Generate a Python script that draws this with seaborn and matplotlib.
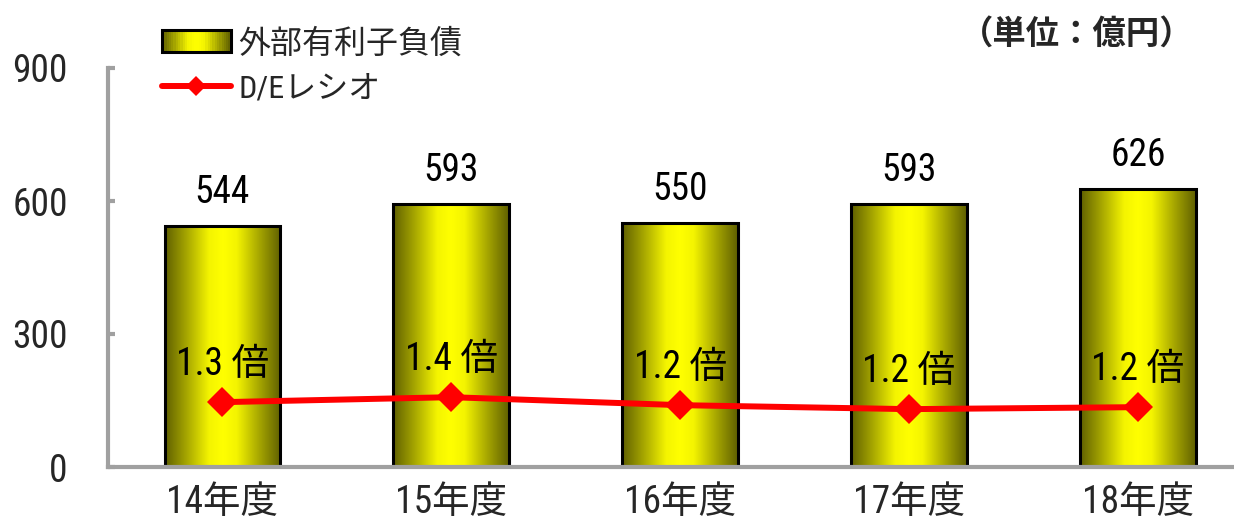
import numpy as np
import matplotlib
matplotlib.use("Agg")
import matplotlib.pyplot as plt
import seaborn as sns
from matplotlib.colors import LinearSegmentedColormap
from matplotlib.patches import Rectangle
from matplotlib.lines import Line2D
from matplotlib.legend_handler import HandlerBase
import logging
logging.getLogger("matplotlib.font_manager").setLevel(logging.ERROR)

# ---- data ----
years = ["14年度", "15年度", "16年度", "17年度", "18年度"]
debt = [544, 593, 550, 593, 626]
de_ratio = [1.30, 1.40, 1.24, 1.16, 1.20]
yticks = [0, 300, 600, 900]
debt_name = "外部有利子負債"
de_name = "D/Eレシオ"
unit_text = "（単位：億円）"

sns.set_theme(style="white")
FAM = ["Liberation Sans Narrow", "DejaVu Sans Condensed", "Roboto Condensed",
       "Noto Sans CJK JP", "DejaVu Sans"]
plt.rcParams["font.family"] = FAM

fig = plt.figure(figsize=(12.34, 5.21), dpi=100)
ax = fig.add_axes([108 / 1234, 1 - 467 / 521, 1 - 108 / 1234, (467 - 68) / 521])

grad_cmap = LinearSegmentedColormap.from_list(
    "cyl", [(0.0, "#606000"), (0.18, "#a4a400"), (0.38, "#f4f400"),
            (0.5, "#ffff00"), (0.62, "#f4f400"), (0.82, "#a4a400"),
            (1.0, "#606000")])

sns.barplot(x=years, y=debt, ax=ax, color="#dddd00", width=0.506,
            edgecolor="black", linewidth=2.2, saturation=1, zorder=2)

grad = np.linspace(0, 1, 256).reshape(1, -1)
for p in list(ax.patches):
    x0, y0 = p.get_x(), p.get_y()
    w, h = p.get_width(), p.get_height()
    im = ax.imshow(grad, cmap=grad_cmap, extent=[x0, x0 + w, y0, y0 + h],
                   aspect="auto", zorder=1.5, interpolation="bicubic")
    im.set_clip_path(p)
    p.set_facecolor("none")

ax.bar_label(ax.containers[0], fmt="%d", padding=11, fontsize=27,
             family=FAM, color="black")

ax.set_xlim(-0.5, 4.42)
ax.set_ylim(0, 900)
ax.set_yticks(yticks)
ax.set_yticklabels([str(t) for t in yticks])
ax.set_xlabel("")
ax.set_ylabel("")

for side in ["top", "right"]:
    ax.spines[side].set_visible(False)
for side in ["left", "bottom"]:
    ax.spines[side].set_color("#a0a0a0")
    ax.spines[side].set_linewidth(3)
ax.tick_params(axis="y", direction="in", length=5, width=3, color="#a0a0a0",
               pad=29, labelsize=27, left=True)
ax.tick_params(axis="x", length=0, pad=12, labelsize=27)

# ---- secondary (hidden) axis for D/E ratio ----
ax2 = ax.twinx()
xpos = np.arange(len(years))
sns.lineplot(x=xpos, y=de_ratio, ax=ax2, color="#ff0000", linewidth=4.3,
             marker="D", markersize=15, markeredgewidth=0, zorder=3)
ax2.set_ylim(0, 8.0)
ax2.set_xlim(-0.5, 4.42)
ax2.axis("off")
for xi, v in zip(xpos, de_ratio):
    ax2.annotate(f"{v:.1f} 倍", (xi, v), xytext=(0, 27),
                 textcoords="offset points", ha="center", va="center",
                 fontsize=27, family=FAM, color="black")


# ---- legend ----
class GradientHandler(HandlerBase):
    def create_artists(self, legend, orig_handle, xdescent, ydescent,
                       width, height, fontsize, trans):
        arts = []
        n = 30
        for i in range(n):
            c = grad_cmap((i + 0.5) / n)
            r = Rectangle((-xdescent + width * i / n, -ydescent),
                          width / n + 0.3, height, facecolor=c,
                          edgecolor="none", transform=trans)
            arts.append(r)
        arts.append(Rectangle((-xdescent, -ydescent), width, height,
                              facecolor="none", edgecolor="black",
                              linewidth=2.2, transform=trans))
        return arts


bar_handle = Rectangle((0, 0), 1, 1)
line_handle = Line2D([0], [0], color="#ff0000", linewidth=4.3, marker="D",
                     markersize=10, markeredgewidth=0)
fig.legend([bar_handle, line_handle], [debt_name, de_name],
           handler_map={Rectangle: GradientHandler()},
           loc="upper left", bbox_to_anchor=(162 / 1234, 1 - 28 / 521),
           frameon=False, handlelength=2.15, handletextpad=0.25,
           labelspacing=0.5, borderpad=0, borderaxespad=0,
           prop={"family": FAM, "size": 23})

fig.text(1194 / 1234, 1 - 34 / 521, unit_text, ha="right", va="center",
         fontsize=24, fontweight="bold", family=["Noto Sans CJK JP"])

fig.savefig("out.png", dpi=100)
